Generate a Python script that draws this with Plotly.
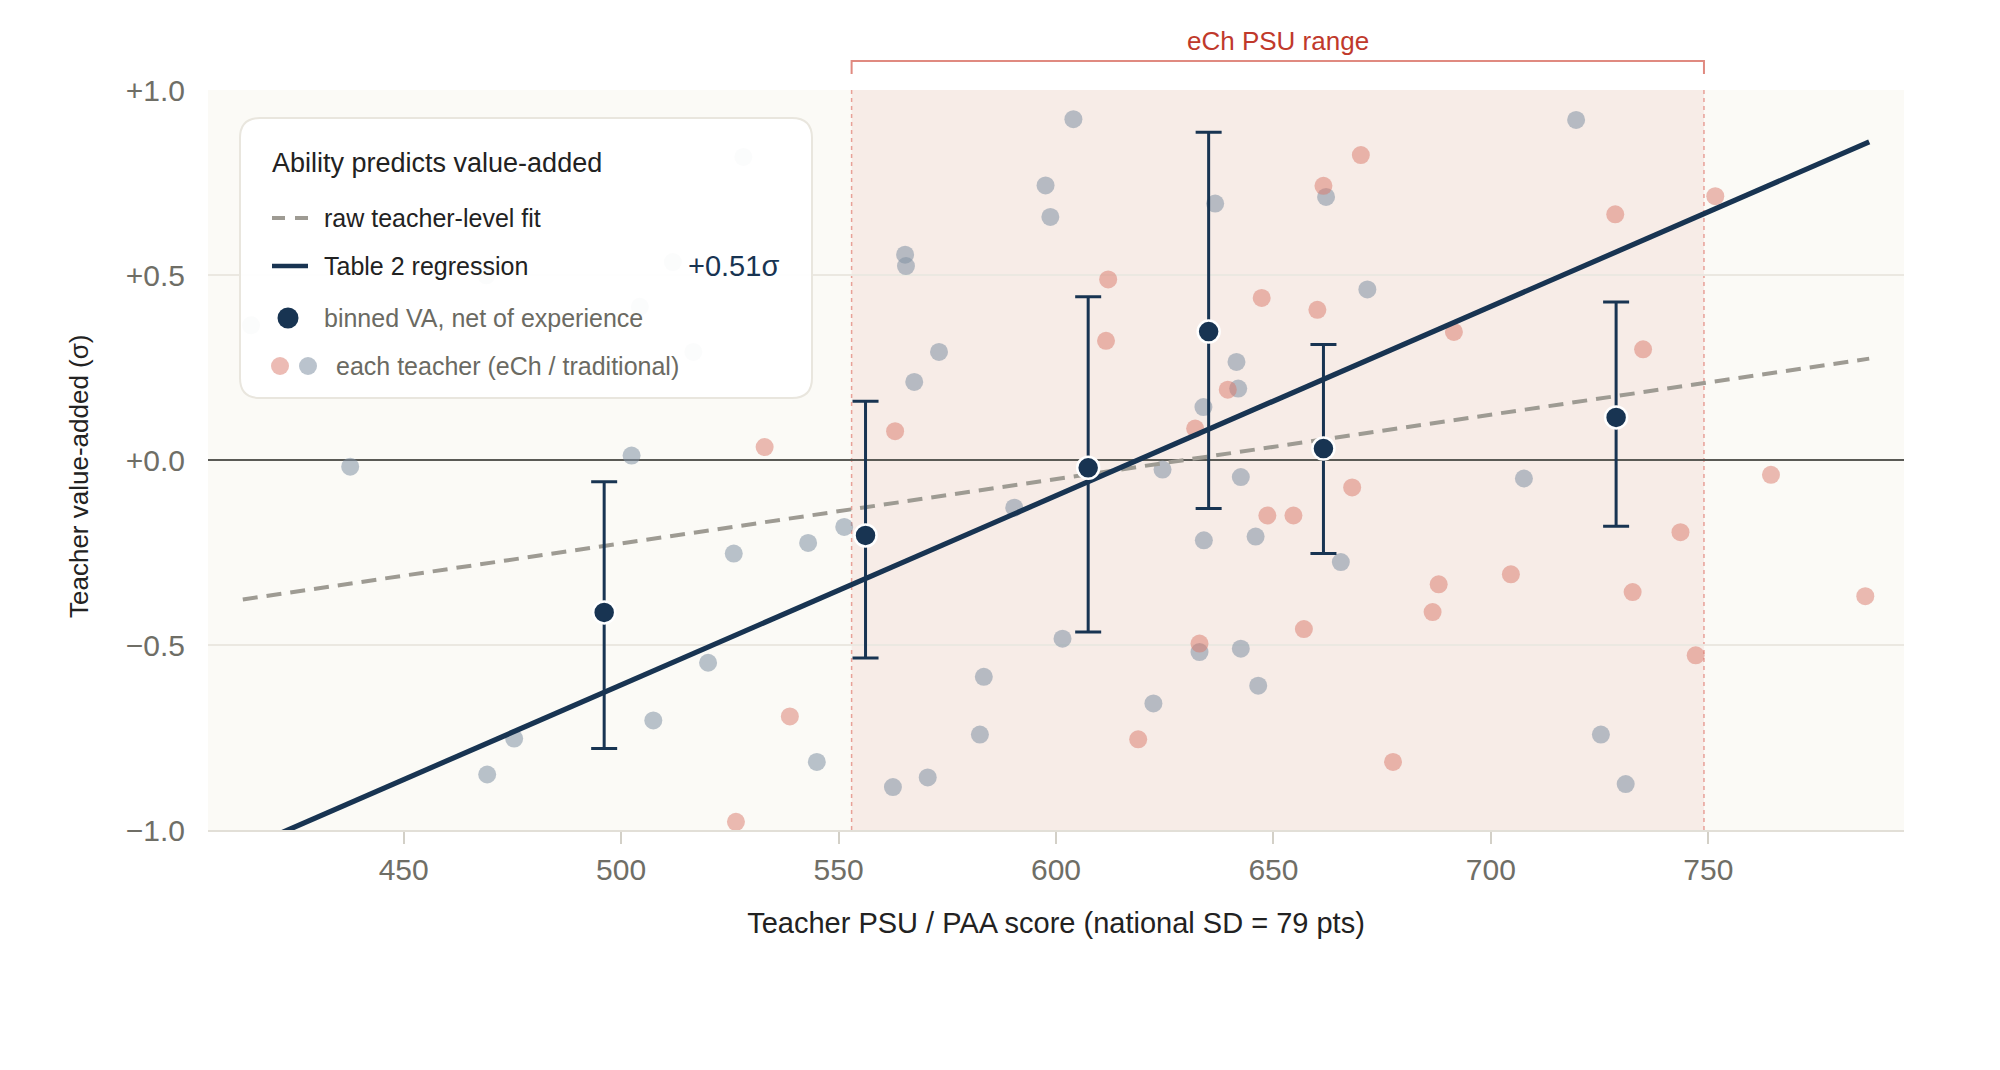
import plotly.graph_objects as go

# ---------------- data ----------------
trad_x = [414.9, 469.0, 511.9, 504.3, 516.6, 528.1, 437.7, 502.4, 604.0, 597.6, 598.7, 565.3,
          565.5, 636.6, 573.1, 567.4, 641.5, 641.9, 633.9, 719.6, 662.1, 671.6, 520.0, 507.4,
          475.4, 469.2, 525.9, 543.0, 551.3, 590.4, 624.5, 642.5, 634.0, 601.5, 633.0, 642.5,
          583.4, 622.4, 582.5, 545.0, 570.5, 562.5, 707.6, 645.9, 665.5, 646.5, 725.3, 731.0]
trad_y = [0.364, 0.499, 0.535, 0.414, 0.292, 0.819, -0.018, 0.012, 0.921, 0.742, 0.657, 0.555,
          0.524, 0.693, 0.292, 0.211, 0.265, 0.193, 0.143, 0.919, 0.711, 0.461, -0.548, -0.704,
          -0.753, -0.850, -0.253, -0.224, -0.181, -0.129, -0.026, -0.046, -0.217, -0.483, -0.519, -0.510,
          -0.586, -0.658, -0.742, -0.816, -0.858, -0.884, -0.050, -0.207, -0.276, -0.610, -0.742, -0.876]

ech_x = [612.0, 611.5, 639.5, 632.0, 563.0, 533.0, 670.1, 661.5, 751.6, 728.6, 647.3, 660.1,
         691.5, 735.0, 633.0, 618.9, 538.8, 526.4, 668.1, 648.6, 654.6, 743.6, 704.6, 688.0,
         732.6, 686.6, 657.0, 747.1, 677.5, 764.4, 786.1]
ech_y = [0.488, 0.322, 0.190, 0.085, 0.078, 0.035, 0.824, 0.741, 0.713, 0.664, 0.438, 0.406,
         0.346, 0.299, -0.496, -0.755, -0.693, -0.978, -0.074, -0.150, -0.150, -0.195, -0.309, -0.336,
         -0.357, -0.411, -0.457, -0.528, -0.816, -0.040, -0.368]

bin_x = [496.1, 556.2, 607.4, 635.1, 661.5, 728.8]
bin_y = [-0.412, -0.204, -0.021, 0.347, 0.031, 0.115]
bin_hi = [-0.059, 0.159, 0.441, 0.886, 0.312, 0.427]
bin_lo = [-0.780, -0.535, -0.465, -0.131, -0.253, -0.179]

fit_x = [413, 787]
raw_fit_y = [-0.377, 0.274]
table2_y = [-1.053, 0.860]

ech_range = [553, 749]

x_ticks = [450, 500, 550, 600, 650, 700, 750]
y_ticks = [1.0, 0.5, 0.0, -0.5, -1.0]
y_ticktext = ["+1.0", "+0.5", "+0.0", "\u22120.5", "\u22121.0"]

# ---------------- style ----------------
NAVY = "#183452"
GREY_PT = "#8191a4"
RED_PT = "#d9776a"
FONT = "Liberation Sans, Arial, Helvetica, sans-serif"
W, H = 2000, 1070
ML, MR, MT, MB = 208, 96, 90, 240
PW, PH = W - ML - MR, H - MT - MB


def px(X):
    return (X - ML) / PW


def py(Y):
    return (H - MB - Y) / PH


fig = go.Figure()

fig.add_trace(go.Scatter(x=trad_x, y=trad_y, mode="markers",
                         marker=dict(size=18, color=GREY_PT, opacity=0.55, line=dict(width=0)),
                         showlegend=False, hoverinfo="skip"))
fig.add_trace(go.Scatter(x=ech_x, y=ech_y, mode="markers",
                         marker=dict(size=18, color=RED_PT, opacity=0.5, line=dict(width=0)),
                         showlegend=False, hoverinfo="skip"))
fig.add_trace(go.Scatter(x=fit_x, y=raw_fit_y, mode="lines",
                         line=dict(color="#9e9b93", width=4, dash="15px,9px"),
                         showlegend=False, hoverinfo="skip"))
fig.add_trace(go.Scatter(x=fit_x, y=table2_y, mode="lines",
                         line=dict(color=NAVY, width=5.2),
                         showlegend=False, hoverinfo="skip"))
fig.add_trace(go.Scatter(
    x=bin_x, y=bin_y, mode="markers",
    marker=dict(size=22, color=NAVY, line=dict(color="white", width=2.5)),
    error_y=dict(type="data", symmetric=False,
                 array=[h - v for h, v in zip(bin_hi, bin_y)],
                 arrayminus=[v - l for l, v in zip(bin_lo, bin_y)],
                 color=NAVY, thickness=3, width=13),
    showlegend=False, hoverinfo="skip"))

shapes = []
# eCh shaded band
shapes.append(dict(type="rect", xref="x", yref="y", x0=ech_range[0], x1=ech_range[1], y0=-1, y1=1,
                   fillcolor="#f7ece7", line=dict(width=0), layer="below"))
for xv in ech_range:
    shapes.append(dict(type="line", xref="x", yref="y", x0=xv, x1=xv, y0=-1, y1=1,
                       line=dict(color="#e8a097", width=1.5, dash="4px,4px"), layer="below"))
# bracket above
shapes.append(dict(type="path", xref="x", yref="paper",
                   path=f"M {ech_range[0]},{py(74)} L {ech_range[0]},{py(61)} L {ech_range[1]},{py(61)} L {ech_range[1]},{py(74)}",
                   line=dict(color="#e08a80", width=2)))

# legend box (rounded)
bx0, bx1, by0, by1 = px(240), px(812), py(398), py(118)
rx, ry = 20 / PW, 20 / PH
path = (f"M {bx0+rx},{by1} L {bx1-rx},{by1} Q {bx1},{by1} {bx1},{by1-ry} "
        f"L {bx1},{by0+ry} Q {bx1},{by0} {bx1-rx},{by0} L {bx0+rx},{by0} "
        f"Q {bx0},{by0} {bx0},{by0+ry} L {bx0},{by1-ry} Q {bx0},{by1} {bx0+rx},{by1} Z")
shapes.append(dict(type="path", xref="paper", yref="paper", path=path,
                   fillcolor="rgba(255,255,255,0.94)", line=dict(color="#e9e6de", width=2), layer="above"))
# legend symbols
shapes.append(dict(type="line", xref="paper", yref="paper", x0=px(272), x1=px(308), y0=py(218), y1=py(218),
                   line=dict(color="#9e9b93", width=4, dash="13px,10px"), layer="above"))
shapes.append(dict(type="line", xref="paper", yref="paper", x0=px(272), x1=px(308), y0=py(266), y1=py(266),
                   line=dict(color=NAVY, width=4.5), layer="above"))


def dot(cx, cy, r, color):
    return dict(type="circle", xref="paper", yref="paper", xsizemode="pixel", ysizemode="pixel",
                xanchor=px(cx), yanchor=py(cy), x0=-r, x1=r, y0=-r, y1=r,
                fillcolor=color, line=dict(width=0), layer="above")


shapes.append(dot(288, 318, 10.5, NAVY))
shapes.append(dot(280, 366, 9, "rgba(217,119,106,0.5)"))
shapes.append(dot(308, 366, 9, "rgba(129,145,164,0.55)"))

annotations = [
    dict(text="eCh PSU range", xref="x", yref="paper", x=(ech_range[0] + ech_range[1]) / 2, y=py(41),
         xanchor="center", yanchor="middle", showarrow=False, font=dict(size=26, color="#c0392b", family=FONT)),
    dict(text="Ability predicts value-added", xref="paper", yref="paper", x=px(270), y=py(163),
         xanchor="left", yanchor="middle", showarrow=False, font=dict(size=27, color="#222222", family=FONT)),
    dict(text="raw teacher-level fit", xref="paper", yref="paper", x=px(322), y=py(218),
         xanchor="left", yanchor="middle", showarrow=False, font=dict(size=25, color="#222222", family=FONT)),
    dict(text="Table 2 regression", xref="paper", yref="paper", x=px(322), y=py(266),
         xanchor="left", yanchor="middle", showarrow=False, font=dict(size=25, color="#222222", family=FONT)),
    dict(text="+0.51\u03c3", xref="paper", yref="paper", x=px(781), y=py(266),
         xanchor="right", yanchor="middle", showarrow=False, font=dict(size=29, color=NAVY, family=FONT)),
    dict(text="binned VA, net of experience", xref="paper", yref="paper", x=px(322), y=py(318),
         xanchor="left", yanchor="middle", showarrow=False, font=dict(size=25, color="#6b6a62", family=FONT)),
    dict(text="each teacher (eCh / traditional)", xref="paper", yref="paper", x=px(334), y=py(366),
         xanchor="left", yanchor="middle", showarrow=False, font=dict(size=25, color="#6b6a62", family=FONT)),
    dict(text="Teacher value-added (\u03c3)", xref="paper", yref="paper", x=px(79), y=py(477),
         xanchor="center", yanchor="middle", textangle=-90, showarrow=False,
         font=dict(size=26, color="#222222", family=FONT)),
]

fig.update_layout(
    width=W, height=H,
    margin=dict(l=ML, r=MR, t=MT, b=MB),
    paper_bgcolor="white", plot_bgcolor="#fbfaf6",
    font=dict(family=FONT, color="#222222"),
    shapes=shapes, annotations=annotations,
    showlegend=False,
    xaxis=dict(range=[405, 795], tickvals=x_ticks, ticks="outside", ticklen=12, tickwidth=1.5,
               tickcolor="#d3d0c7", showgrid=False, zeroline=False, showline=True, linecolor="#e2dfd7",
               linewidth=2, tickfont=dict(size=30, color="#6f6e66", family=FONT),
               title=dict(text="Teacher PSU / PAA score (national SD = 79 pts)",
                          font=dict(size=29, color="#222222", family=FONT), standoff=28)),
    yaxis=dict(range=[-1, 1], tickvals=y_ticks, ticktext=y_ticktext, ticks="", showgrid=True,
               gridcolor="#ebe8e1", gridwidth=1.5, zeroline=True, zerolinecolor="#5a5a55", zerolinewidth=2,
               showline=False, ticklabelstandoff=22,
               tickfont=dict(size=30, color="#6f6e66", family=FONT)),
)

fig.write_html("out.html")
